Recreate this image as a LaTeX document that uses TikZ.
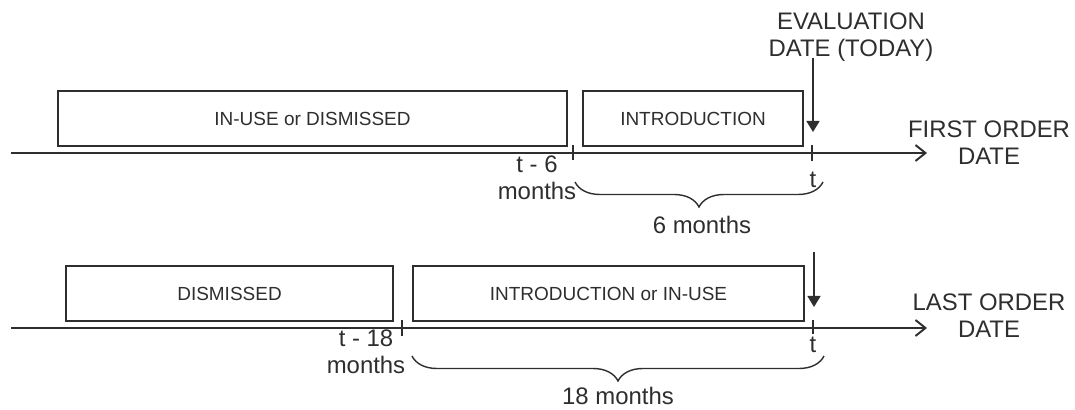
\documentclass[tikz,border=0pt]{standalone}
\usepackage{fontspec}
\setmainfont{Liberation Sans}
\usepackage{tikz}
\usetikzlibrary{arrows.meta,decorations.pathreplacing}
\definecolor{ink}{HTML}{2E2E2E}

\begin{document}
\begin{tikzpicture}[scale = 1, line width = 1.1pt, ink,
    phase/.style = {rectangle, draw, minimum height = 1.1cm, inner sep = 0pt, font = \fontsize{10.8}{13}\selectfont},
    lbl/.style = {align = center, inner sep = 0pt, font = \fontsize{13.6}{15.5}\selectfont},
    axis/.style = {-{Straight Barb[length = 2mm, width = 3.2mm]}},
    tickline/.style = {line width = 0.8pt},
    today/.style = {line width = 0.8pt, -{Triangle[length = 2.2mm, width = 2.6mm]}},
    brc/.style = {decorate, decoration = {brace, mirror, amplitude = 0.5cm}, line width = 0.8pt}]
\useasboundingbox (0,0) rectangle (21.5,8.2);

% first order date
\node[phase, minimum width = 10.18cm] (use1) at (6.25,5.83) {IN-USE or DISMISSED};
\node[phase, minimum width = 4.40cm] (intro1) at (13.86,5.83) {INTRODUCTION};
\coordinate (s1) at (0.22,5.14);
\coordinate (e1) at (18.54,5.14);
\coordinate (p1) at (11.46,5.14);
\coordinate (t1) at (16.24,5.14);
\draw[axis] (s1) -- (e1);
\draw[tickline] ([yshift = 0.16cm]p1) -- ([yshift = -0.14cm]p1);
\draw[tickline] ([yshift = 0.16cm]t1) -- ([yshift = -0.16cm]t1);
\node[lbl] (first) at (19.78,5.34) {FIRST ORDER\\DATE};
\node[lbl] (eval) at (17.02,7.45) {EVALUATION\\DATE (TODAY)};
\coordinate (ev1) at (16.26,7.04);
\coordinate (ev2) at (16.26,5.56);
\draw[today] (ev1) -- (ev2);
\node[lbl] (p1lbl) at (10.74,4.65) {t - 6\\months};
\node[lbl] (t1lbl) at (16.26,4.60) {t};
\coordinate (b1) at (11.50,4.56);
\coordinate (b2) at (16.46,4.56);
\draw[brc] (b1) -- (b2);
\node[lbl] (six) at (14.04,3.70) {6 months};

% last order date
\node[phase, minimum width = 6.54cm] (dis2) at (4.59,2.33) {DISMISSED};
\node[phase, minimum width = 7.82cm] (intro2) at (12.17,2.33) {INTRODUCTION or IN-USE};
\coordinate (s2) at (0.22,1.64);
\coordinate (e2) at (18.54,1.64);
\coordinate (p2) at (8.04,1.64);
\coordinate (t2) at (16.26,1.64);
\draw[axis] (s2) -- (e2);
\draw[tickline] ([yshift = 0.16cm]p2) -- ([yshift = -0.16cm]p2);
\draw[tickline] ([yshift = 0.16cm]t2) -- ([yshift = -0.12cm]t2);
\node[lbl] (last) at (19.78,1.89) {LAST ORDER\\DATE};
\coordinate (ev3) at (16.28,3.16);
\coordinate (ev4) at (16.28,2.06);
\draw[today] (ev3) -- (ev4);
\node[lbl] (p2lbl) at (7.32,1.16) {t - 18\\months};
\node[lbl] (t2lbl) at (16.26,1.30) {t};
\coordinate (b3) at (8.24,1.08);
\coordinate (b4) at (16.48,1.08);
\draw[brc] (b3) -- (b4);
\node[lbl] (eighteen) at (12.36,0.28) {18 months};
\end{tikzpicture}
\end{document}
